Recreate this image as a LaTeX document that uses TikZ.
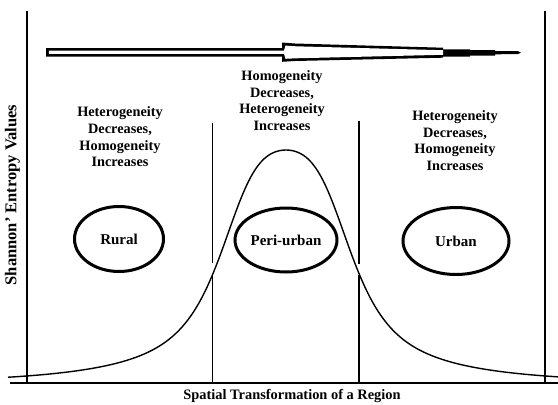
\documentclass[tikz,border=0pt]{standalone}
\usepackage{fontspec}
\setmainfont{Liberation Serif}
\usetikzlibrary{shapes.geometric}
\begin{document}
\begin{tikzpicture}[x=1pt,y=-1pt,
  region/.style={draw, line width=3pt, ellipse, inner sep=0pt,
    font=\fontsize{15}{18}\selectfont\bfseries},
  note/.style={align=center, inner sep=0pt,
    font=\fontsize{14.3}{16.7}\selectfont\bfseries},
  axislabel/.style={inner sep=0pt, font=\fontsize{14.4}{17}\selectfont\bfseries},
  divider/.style={line width=1.4pt},
  curveline/.style={line width=1.4pt},
  declare function={bellu(\t)=((\t)-286)/65.3; bellq(\t)=bellu(\t)*bellu(\t);
    bellh(\t)=193/(1+0.3*bellq(\t)+0.7*bellq(\t)*bellq(\t))+40/cosh(((\t)-286)/100);}
]
\useasboundingbox (0,0) rectangle (558,405);
\fill[white] (0,0) rectangle (558,405);

% frame lines
\coordinate (L1t) at (27,11);   \coordinate (L1b) at (27,383);
\coordinate (R1t) at (545,11);  \coordinate (R1b) at (545,383);
\coordinate (M1t) at (212.5,123); \coordinate (M1m) at (212.5,263);
\coordinate (M1c) at (212.5,275); \coordinate (M1b) at (212.5,383);
\coordinate (M2t) at (359,121); \coordinate (M2m) at (359,264);
\coordinate (M2c) at (359,275); \coordinate (M2b) at (359,383);
\coordinate (A1) at (10,383); \coordinate (A2) at (558,383);

\draw[divider] (L1t) -- (L1b);
\draw[divider] (R1t) -- (R1b);
\draw[divider] (M1t) -- (M1m);
\draw[divider] (M1c) -- (M1b);
\draw[divider] (M2t) -- (M2m);
\draw[divider] (M2c) -- (M2b);
\draw[line width=1.8pt] (A1) -- (A2);

% bell curve
\draw[curveline] plot[domain=8:558, samples=221, smooth]
  (\x, {383 - bellh(\x)});

% top arrow
\fill[black] (46,48) -- (282,48) -- (282,42.5) -- (295,43.5) -- (443,47.7)
  -- (443,49.3) -- (470,49.3) -- (470,50) -- (495,50.2) -- (495,51)
  -- (518,51.2) -- (521,52.6) -- (518,54.1) -- (495,54.3) -- (495,55.7)
  -- (470,55.7) -- (470,56.7) -- (443,56.7) -- (443,57.7) -- (295,61)
  -- (282,61.8) -- (282,56.5) -- (46,56.5) -- cycle;
\fill[white] (48.8,50.6) -- (284,50.6) -- (285.5,45.6) -- (296,46.3)
  -- (443,50.2) -- (443,54.8) -- (296,58.3) -- (285.5,58.8) -- (284,53.8)
  -- (48.8,53.8) -- cycle;

% texts
\node[note] (tleft) at (120,137) {Heterogeneity\\Decreases,\\Homogeneity\\Increases};
\node[note] (tmid) at (282,100.5) {Homogeneity\\Decreases,\\Heterogeneity\\Increases};
\node[note] (tright) at (455,140.5) {Heterogeneity\\Decreases,\\Homogeneity\\Increases};

\node[region, minimum width=89pt, minimum height=65pt] (rural) at (119,239) {Rural};
\node[region, minimum width=102pt, minimum height=64pt] (peri) at (286,240) {Peri-urban};
\node[region, minimum width=106pt, minimum height=67pt] (urban) at (456,241) {Urban};

\node[axislabel] (xlab) at (292,396) {Spatial Transformation of a Region};
\node[axislabel, rotate=90, font=\fontsize{16.5}{20}\selectfont\bfseries] (ylab) at (12.5,195) {Shannon' Entropy Values};
\end{tikzpicture}
\end{document}
